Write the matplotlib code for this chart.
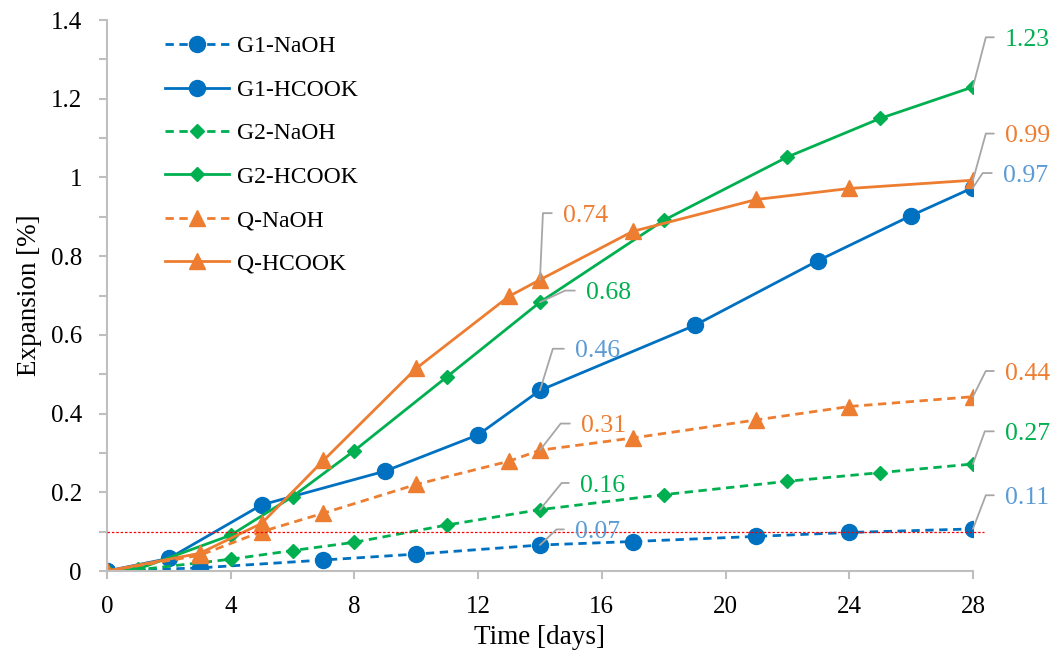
import math
import matplotlib
matplotlib.use("Agg")
from matplotlib import pyplot as plt
from matplotlib.ticker import MultipleLocator

plt.rcParams['font.family'] = ['Liberation Serif', 'DejaVu Serif']

# data
g1_naoh_x = [0, 3, 7, 10, 14, 17, 21, 24, 28]
g1_naoh_y = [0, 0.008, 0.028, 0.043, 0.066, 0.075, 0.088, 0.098, 0.107]
g1_hcook_x = [0, 2, 5, 9, 12, 14, 19, 23, 26, 28]
g1_hcook_y = [0, 0.032, 0.168, 0.254, 0.346, 0.459, 0.624, 0.789, 0.903, 0.974]
g2_x = [0, 1, 4, 6, 8, 11, 14, 18, 22, 25, 28]
g2_naoh_y = [0, 0.003, 0.030, 0.052, 0.073, 0.117, 0.156, 0.194, 0.228, 0.250, 0.272]
g2_hcook_y = [0, 0.005, 0.091, 0.189, 0.306, 0.494, 0.683, 0.891, 1.052, 1.150, 1.230]
q_x = [0, 3, 5, 7, 10, 13, 14, 17, 21, 24, 28]
q_naoh_y = [0, 0.040, 0.100, 0.147, 0.220, 0.279, 0.307, 0.338, 0.384, 0.418, 0.443]
q_hcook_y = [0, 0.045, 0.121, 0.281, 0.515, 0.698, 0.740, 0.863, 0.944, 0.972, 0.993]
limit = 0.1

BLUE, GREEN, ORANGE = '#0070C0', '#00B050', '#ED7D31'
LBLUE = '#5B9BD5'
GREY = '#BFBFBF'

series = [
    ('G1-NaOH', g1_naoh_x, g1_naoh_y, BLUE, '--', 'o', 11.5),
    ('G1-HCOOK', g1_hcook_x, g1_hcook_y, BLUE, '-', 'o', 11.5),
    ('G2-NaOH', g2_x, g2_naoh_y, GREEN, '--', 'D', 7.5),
    ('G2-HCOOK', g2_x, g2_hcook_y, GREEN, '-', 'D', 7.5),
    ('Q-NaOH', q_x, q_naoh_y, ORANGE, '--', '^', 11),
    ('Q-HCOOK', q_x, q_hcook_y, ORANGE, '-', '^', 11),
]

fig = plt.figure(figsize=(10.58, 6.59), dpi=100)
ax = fig.add_axes([0.1011, 0.1335, 0.8185, 0.8361])

for name, xs, ys, col, ls, mk, ms in series:
    ax.plot(xs, ys, ls=ls, color=col, lw=2.0, marker=mk, ms=ms,
            mec=col, mfc=col, label=name, dashes=(3, 2) if ls == '--' else (None, None))

# 0.1 % limit line
ax.plot([0, 28.35], [limit, limit], ls=(0, (2, 1.5)), color='red', lw=0.9, clip_on=False, zorder=3)

# data labels with leader lines: (series index, point index, label colour, corner dx, corner dy, text dx)
labels = [
    (3, -1, GREEN, 13, 50, 32),
    (5, -1, ORANGE, 13, 47, 32),
    (1, -1, LBLUE, 10, 15, 30),
    (4, -1, ORANGE, 13, 26, 32),
    (2, -1, GREEN, 12, 33, 32),
    (0, -1, LBLUE, 13, 34, 32),
    (5, 6, ORANGE, 3, 67, 23),
    (3, 6, GREEN, 26, 12, 46),
    (1, 5, LBLUE, 13, 42, 35),
    (4, 6, ORANGE, 21, 27, 41),
    (2, 6, GREEN, 22, 27, 40),
    (0, 4, LBLUE, 17, 16, 35),
]
for si, pi, col, cx, cy, tx in labels:
    _, xs, ys, *_ = series[si]
    ang = math.degrees(math.atan2(cy, cx))
    ax.annotate(f"{ys[pi]:.2f}", (xs[pi], ys[pi]), xytext=(tx, cy - 3),
                textcoords='offset pixels', color=col, fontsize=18.5,
                ha='left', va='center', annotation_clip=False,
                arrowprops=dict(arrowstyle='-', color='#A6A6A6', lw=1.3,
                                relpos=(0, 0.62), shrinkA=6, shrinkB=0,
                                connectionstyle=f"angle,angleA=0,angleB={ang},rad=0"))

ax.set_xlim(0, 28)
ax.set_ylim(0, 1.4)
ax.xaxis.set_major_locator(MultipleLocator(4))
ax.yaxis.set_minor_locator(MultipleLocator(0.1))
ax.set_yticks([0, 0.2, 0.4, 0.6, 0.8, 1.0, 1.2, 1.4])
ax.set_yticklabels(['0', '0.2', '0.4', '0.6', '0.8', '1', '1.2', '1.4'])

for s in ['top', 'right']:
    ax.spines[s].set_visible(False)
for s in ['left', 'bottom']:
    ax.spines[s].set_color(GREY)
    ax.spines[s].set_linewidth(1.5)
ax.tick_params(which='both', direction='out', color=GREY, width=1.5, length=6,
               labelsize=18, labelcolor='black')
ax.tick_params(axis='y', pad=12)
ax.tick_params(axis='x', pad=12)

ax.set_xlabel('Time [days]', fontsize=19.5, labelpad=5)
ax.set_ylabel('Expansion [%]', fontsize=19.5, labelpad=6)

ax.legend(loc='upper left', bbox_to_anchor=(0.043, 1.01), frameon=False, fontsize=17,
          handlelength=2.7, handletextpad=0.35, labelspacing=0.93)

fig.savefig('out.png', dpi=100)
